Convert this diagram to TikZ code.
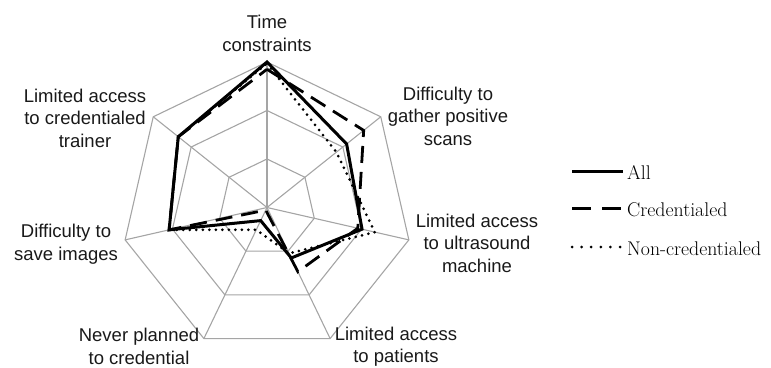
\documentclass[tikz,border=0pt]{standalone}
\usepackage{fontspec}
\setsansfont{Liberation Sans}
\definecolor{gridc}{RGB}{165,165,165}
\tikzset{
  gridline/.style={draw=gridc, line width=1.1pt},
  allline/.style={draw=black, line width=3pt, line join=miter},
  credline/.style={draw=black, line width=2.8pt, dash pattern=on 17pt off 9pt, line join=miter},
  noncredline/.style={draw=black, line width=3pt, line cap=round, dash pattern=on 0pt off 6.5pt},
  noncredleg/.style={draw=black, line width=3pt, line cap=round, dash pattern=on 0pt off 9.6pt},
  axlabel/.style={font=\sffamily\fontsize{18.5}{22.5}\selectfont, align=center, inner sep=0pt, text=black!90},
  leglabel/.style={font=\fontsize{19.8}{22}\selectfont, anchor=west, inner sep=0pt, text=black}
}
\begin{document}
\begin{tikzpicture}[x=1pt,y=-1pt]
\useasboundingbox (0,0) rectangle (771,367);
\begin{scope}[shift={(267,207.5)}]
  \coordinate (c) at (0,0);
  \foreach \f in {0.3333,0.6667,1}{
    \draw[gridline] (-90:145.5*\f) \foreach \k in {1,...,6}{ -- (\k*360/7-90:145.5*\f)} -- cycle;
  }
  \foreach \k in {0,...,6}{
    \coordinate (o\k) at (\k*360/7-90:145.5);
    \draw[gridline] (c) -- (o\k);
  }
  \foreach \v [count=\k from 0] in {1.0,0.70,0.67,0.385,0.10,0.69,0.78}
    \coordinate (a\k) at (\k*360/7-90:145.5*\v);
  \foreach \v [count=\k from 0] in {0.95,0.85,0.64,0.49,0.02,0.69,0.78}
    \coordinate (b\k) at (\k*360/7-90:145.5*\v);
  \foreach \v [count=\k from 0] in {0.99,0.61,0.76,0.35,0.17,0.69,0.78}
    \coordinate (n\k) at (\k*360/7-90:145.5*\v);
\end{scope}

\draw[noncredline] (n0) -- (n1) -- (n2) -- (n3) -- (n4) -- (n5) -- (n6) -- cycle;
\draw[credline] (b0) -- (b1) -- (b2) -- (b3) -- (b4) -- (b5) -- (b6) -- cycle;
\draw[allline] (a0) -- (a1) -- (a2) -- (a3) -- (a4) -- (a5) -- (a6) -- cycle;

\node[axlabel] (l0) at (267,33.5) {Time\\constraints};
\node[axlabel] (l1) at (448,116) {Difficulty to\\gather positive\\scans};
\node[axlabel] (l2) at (477,243) {Limited access\\to ultrasound\\machine};
\node[axlabel] (l3) at (396,346.5) {Limited access\\to patients};
\node[axlabel] (l4) at (139,346.5) {Never planned\\to credential};
\node[axlabel] (l5) at (66,244) {Difficulty to\\save images};
\node[axlabel] (l6) at (85,118) {Limited access\\to credentialed\\trainer};

\coordinate (g1a) at (572,171); \coordinate (g1b) at (623,171);
\coordinate (g2a) at (572,208.5); \coordinate (g2b) at (623,208.5);
\coordinate (g3a) at (572,247); \coordinate (g3b) at (621,247);
\draw[allline] (g1a) -- (g1b);
\draw[black, line width=2.8pt, dash pattern=on 19pt off 11pt] (g2a) -- (g2b);
\draw[noncredleg] (g3a) -- (g3b);
\node[leglabel] (t1) at (627,172) {All};
\node[leglabel] (t2) at (627,210) {Credentialed};
\node[leglabel] (t3) at (627,248.5) {Non-credentialed};
\end{tikzpicture}
\end{document}
